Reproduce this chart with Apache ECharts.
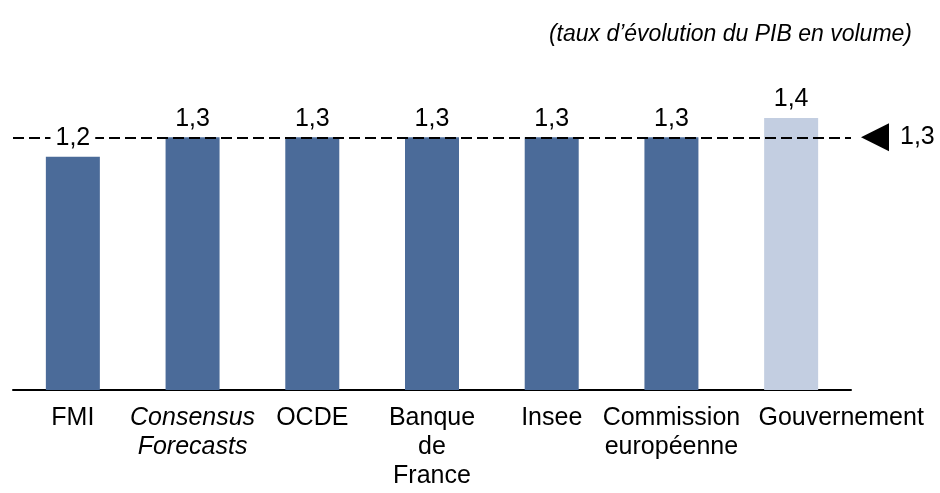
<!DOCTYPE html>
<html>
<head>
<meta charset="utf-8">
<script src="https://cdn.jsdelivr.net/npm/echarts@6/dist/echarts.min.js"></script>
<style>
  html, body { margin: 0; padding: 0; background: #fff; }
  #chart { width: 940px; height: 493px; }
</style>
</head>
<body>
<div id="chart"></div>
<script>
// prévisions de croissance
const categories = ['FMI', 'Consensus\nForecasts', 'OCDE', 'Banque\nde\nFrance', 'Insee', 'Commission\neuropéenne', 'Gouvernement']
const values = [1.2, 1.3, 1.3, 1.3, 1.3, 1.3, 1.4]
const consensusValue = 1.3
const subtitle = '(taux d\u2019évolution du PIB en volume)'

const font = 'Liberation Sans, Arial, sans-serif'
const darkBlue = '#4b6b99'
const lightBlue = '#c3cee1'
const fmt = v => String(v).replace('.', ',')

// per-category label tweaks (italic, last label pushed right as in the original)
const labelTweaks = {
  'Consensus\nForecasts': { fontStyle: 'italic' },
  'Gouvernement': { padding: [0, 0, 0, 100] }
}

const chart = echarts.init(document.getElementById('chart'))

chart.setOption({
  animation: false,
  title: {
    text: subtitle,
    right: 23,
    top: 18,
    textStyle: { fontFamily: font, fontSize: 23, fontStyle: 'italic', fontWeight: 'normal', color: '#000' }
  },
  grid: { left: 13, right: 89, top: 79, bottom: 103 },
  xAxis: {
    type: 'category',
    data: categories.map(c => labelTweaks[c] ? { value: c, textStyle: labelTweaks[c] } : c),
    axisLine: { lineStyle: { color: '#000', width: 2 } },
    axisTick: { show: false },
    axisLabel: {
      interval: 0,
      margin: 14,
      fontFamily: font,
      fontSize: 25,
      lineHeight: 29,
      color: '#000'
    }
  },
  yAxis: {
    type: 'value',
    min: 0,
    max: 1.6,
    show: false,
    splitLine: { show: false }
  },
  series: [
    {
      type: 'bar',
      z: 2,
      barWidth: 54,
      data: values.map((v, i) => ({
        value: v,
        itemStyle: { color: categories[i] === 'Gouvernement' ? lightBlue : darkBlue }
      })),
      markLine: {
        silent: true,
        z: 5,
        symbol: ['none', 'triangle'],
        symbolSize: [28, 28],
        symbolRotate: 90,
        symbolOffset: [0, [0, 24]],
        lineStyle: { color: '#000', width: 2, type: [11, 5] },
        itemStyle: { color: '#000' },
        label: {
          show: true,
          position: 'end',
          distance: 49,
          formatter: p => fmt(p.value),
          fontFamily: font,
          fontSize: 25,
          color: '#000'
        },
        data: [{ yAxis: consensusValue }]
      }
    },
    {
      // labels drawn above the dashed line
      type: 'bar',
      z: 6,
      silent: true,
      barWidth: 54,
      barGap: '-100%',
      itemStyle: { color: 'transparent' },
      label: {
        show: true,
        position: 'top',
        distance: 6,
        formatter: p => fmt(p.value),
        fontFamily: font,
        fontSize: 25,
        color: '#000',
        backgroundColor: '#fff',
        padding: [0, 5]
      },
      data: values
    }
  ]
})
</script>
</body>
</html>
